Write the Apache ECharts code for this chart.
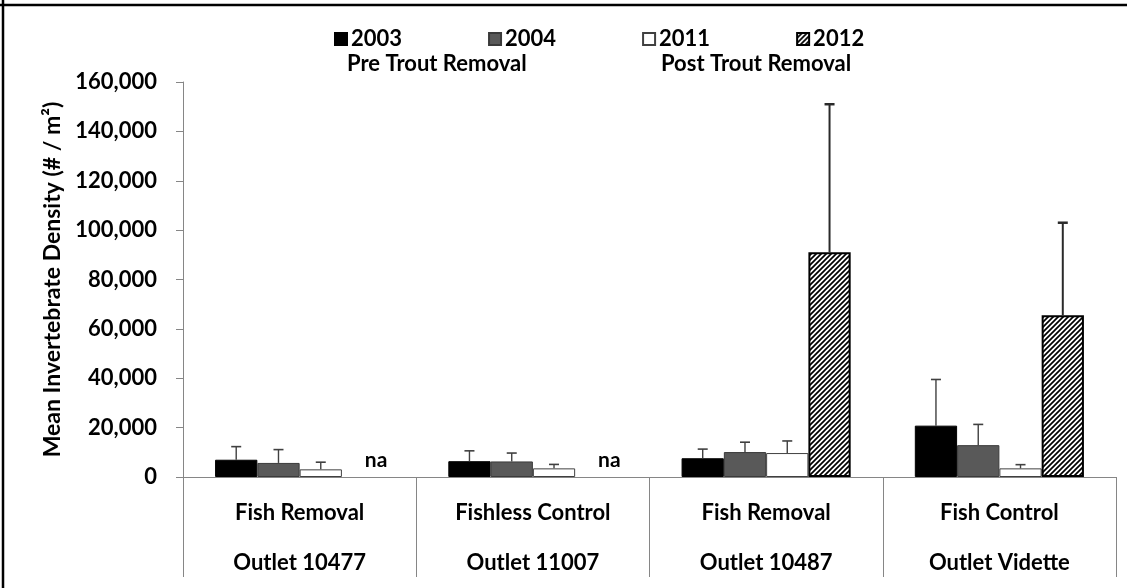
<!DOCTYPE html>
<html>
<head>
<meta charset="utf-8">
<script src="https://cdn.jsdelivr.net/npm/echarts@6/dist/echarts.min.js"></script>
<style>
  html, body { margin: 0; padding: 0; background: #fff; }
  #chart { width: 1127px; height: 588px; }
</style>
</head>
<body>
<div id="chart"></div>
<script>
// Sites and their treatment (two-level category axis)
const outlets = ['Outlet 10477', 'Outlet 11007', 'Outlet 10487', 'Outlet Vidette'];
const treatments = ['Fish Removal', 'Fishless Control', 'Fish Removal', 'Fish Control'];
const years = ['2003', '2004', '2011', '2012'];

// Mean invertebrate density (#/m2); null = not sampled
const mean2003 = [7000, 6400, 7600, 20800];
const mean2004 = [5700, 6300, 10100, 12900];
const mean2011 = [3100, 3500, 9700, 3500];
const mean2012 = [null, null, 91000, 65500];

// Upper error (added to the mean)
const err2003 = [5300, 4200, 3700, 18700];
const err2004 = [5400, 3400, 4000, 8400];
const err2011 = [2900, 1600, 4900, 1500];
const err2012 = [null, null, 60000, 37500];

const yTicks = { min: 0, max: 160000, interval: 20000 };
const periodLabels = ['Pre Trout Removal', 'Post Trout Removal'];

const means = [mean2003, mean2004, mean2011, mean2012];
const errs = [err2003, err2004, err2011, err2012];

const FONT = 'Lato, "Open Sans", sans-serif';
const CAT_GAP = 0.275;

// Diagonal hatch tile for the 2012 bars
function hatchTile() {
  const s = 5;
  const c = document.createElement('canvas');
  c.width = s; c.height = s;
  const g = c.getContext('2d');
  g.fillStyle = '#fff';
  g.fillRect(0, 0, s, s);
  g.strokeStyle = '#000';
  g.lineWidth = 1.7;
  g.beginPath();
  g.moveTo(-1, s + 1); g.lineTo(s + 1, -1);
  g.moveTo(-1, 1); g.lineTo(1, -1);
  g.moveTo(s - 1, s + 1); g.lineTo(s + 1, s - 1);
  g.stroke();
  return c;
}

const barStyles = [
  { color: '#000000', borderColor: '#000000', borderWidth: 1 },
  { color: '#595959', borderColor: '#3a3a3a', borderWidth: 1 },
  { color: '#ffffff', borderColor: '#404040', borderWidth: 1 },
  { color: { image: hatchTile(), repeat: 'repeat' }, borderColor: '#000000', borderWidth: 2 }
];

const barSeries = years.map((y, k) => ({
  name: y,
  type: 'bar',
  barGap: '0%',
  barCategoryGap: (CAT_GAP * 100) + '%',
  itemStyle: barStyles[k],
  emphasis: { disabled: true },
  data: means[k].map(v => (v === null ? '-' : v)),
  z: 2
}));

// Error bars (and "na" marks for missing bars)
const errData = [];
means.forEach((arr, k) => {
  arr.forEach((m, j) => {
    const missing = m === null ? 1 : 0;
    errData.push([j, missing ? 0 : m, missing ? 0 : errs[k][j], k, missing]);
  });
});

const errSeries = {
  type: 'custom',
  z: 5,
  silent: true,
  data: errData,
  renderItem: function (params, api) {
    const j = api.value(0), m = api.value(1), e = api.value(2), k = api.value(3), missing = api.value(4);
    const band = api.size([1, 0])[0];
    const bw = band * (1 - CAT_GAP) / 4;
    const cx = api.coord([j, 0])[0] + (k - 1.5) * bw;
    const base = api.coord([j, 0])[1];
    if (missing) {
      return {
        type: 'text',
        style: {
          text: 'na', x: cx + 13, y: base - 17,
          align: 'center', verticalAlign: 'middle',
          font: 'bold 21px ' + FONT, fill: '#000'
        }
      };
    }
    const y0 = api.coord([j, m])[1];
    const y1 = api.coord([j, m + e])[1];
    const big = k === 3;
    const stroke = big ? '#2a2a2a' : '#404040';
    const lw = big ? 2 : 1.4;
    const half = 5;
    return {
      type: 'group',
      children: [
        { type: 'line', shape: { x1: cx, y1: y0, x2: cx, y2: y1 }, style: { stroke: stroke, lineWidth: lw } },
        { type: 'line', shape: { x1: cx - half, y1: y1, x2: cx + half, y2: y1 }, style: { stroke: stroke, lineWidth: big ? 2.5 : 1.6 } }
      ]
    };
  }
};

const chart = echarts.init(document.getElementById('chart'), null, { renderer: 'canvas' });
chart.setOption({
  animation: false,
  backgroundColor: '#ffffff',
  textStyle: { fontFamily: FONT },
  grid: { left: 183, right: 11, top: 82, bottom: 106, containLabel: false },
  legend: {
    data: years,
    left: 329,
    top: 23,
    icon: 'rect',
    itemWidth: 12,
    itemHeight: 12,
    itemGap: 86,
    selectedMode: false,
    textStyle: { fontSize: 22, fontWeight: 'bold', color: '#000', fontFamily: FONT, padding: [0, 0, 0, -1] }
  },
  xAxis: {
    type: 'category',
    data: outlets,
    axisLine: { show: true, lineStyle: { color: '#868686', width: 1 } },
    axisTick: { show: true, interval: 0, length: 100, lineStyle: { color: '#868686', width: 1 } },
    axisLabel: {
      interval: 0,
      margin: 11,
      lineHeight: 50,
      fontSize: 22,
      fontWeight: 'bold',
      color: '#000',
      fontFamily: FONT,
      formatter: function (v, i) { return treatments[i] + '\n' + v; }
    },
    splitLine: { show: false }
  },
  yAxis: {
    type: 'value',
    min: yTicks.min,
    max: yTicks.max,
    interval: yTicks.interval,
    name: 'Mean Invertebrate Density (# / m²)',
    nameLocation: 'middle',
    nameRotate: 90,
    nameGap: 116,
    nameTextStyle: { fontSize: 23, fontWeight: 'bold', color: '#000', fontFamily: FONT },
    axisLine: { show: true, lineStyle: { color: '#868686', width: 1 } },
    axisTick: { show: true, length: 7, lineStyle: { color: '#868686' } },
    axisLabel: {
      margin: 26,
      fontSize: 22,
      fontWeight: 'bold',
      color: '#000',
      fontFamily: FONT,
      formatter: v => v.toLocaleString('en-US')
    },
    splitLine: { show: false }
  },
  graphic: [
    { type: 'line', shape: { x1: 0, y1: 5, x2: 1127, y2: 5 }, style: { stroke: '#000', lineWidth: 2.5 }, silent: true },
    { type: 'line', shape: { x1: 3, y1: 0, x2: 3, y2: 588 }, style: { stroke: '#000', lineWidth: 2.5 }, silent: true },
    { type: 'text', left: 347, top: 53, silent: true,
      style: { text: periodLabels[0], font: 'bold 22px ' + FONT, fill: '#000' } },
    { type: 'text', left: 661, top: 53, silent: true,
      style: { text: periodLabels[1], font: 'bold 22px ' + FONT, fill: '#000' } }
  ],
  series: barSeries.concat([errSeries])
});
</script>
</body>
</html>
